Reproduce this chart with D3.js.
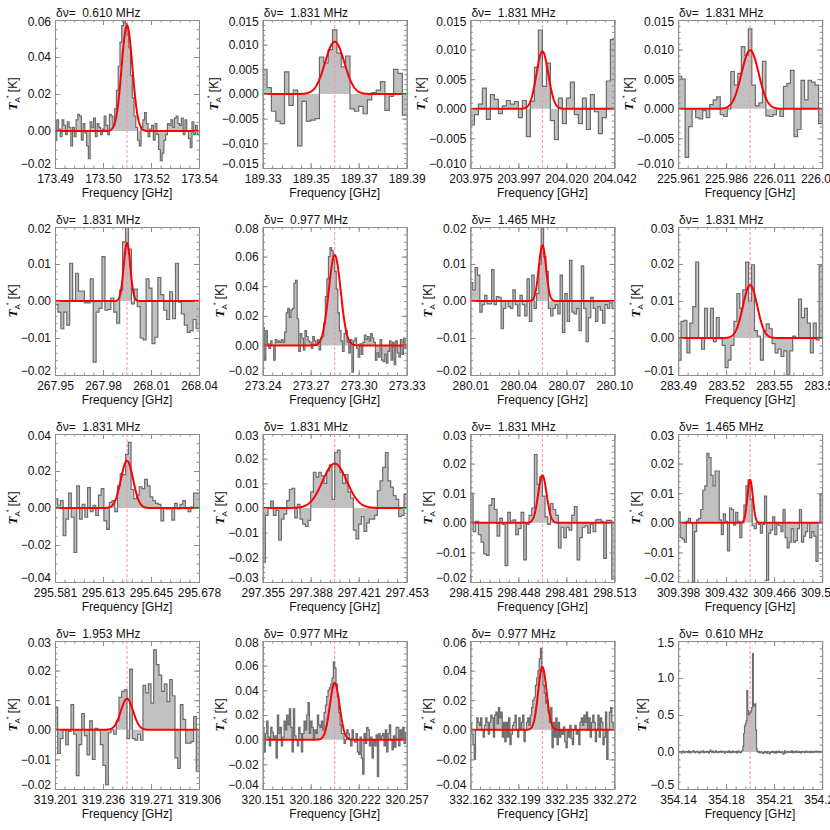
<!DOCTYPE html>
<html>
<head>
<meta charset="utf-8">
<script src="https://cdn.jsdelivr.net/npm/d3@7"></script>
<style>
  body { margin: 0; background: #fff; }
  svg text { font-family: "Liberation Sans", Arial, Helvetica, sans-serif; }
</style>
</head>
<body>
<svg class="plot" width="830" height="830"></svg>
<script>
// channel spacing shown above each panel (MHz)
var dnuLabels = ["0.610", "1.831", "1.831", "1.831", "1.831", "0.977", "1.465", "1.831",
                 "1.831", "1.831", "1.831", "1.465", "1.953", "0.977", "0.977", "0.610"];

// frequency window of each panel (GHz) and its tick labels
var freqLo = [173.49, 189.33, 203.975, 225.961, 267.95, 273.24, 280.01, 283.49,
              295.581, 297.355, 298.415, 309.398, 319.201, 320.151, 332.162, 354.14];
var freqHi = [173.54, 189.39, 204.042, 226.036, 268.04, 273.33, 280.10, 283.58,
              295.678, 297.453, 298.513, 309.500, 319.306, 320.257, 332.272, 354.25];
var xTickLabels = [
  ["173.49", "173.50", "173.52", "173.54"], ["189.33", "189.35", "189.37", "189.39"],
  ["203.975", "203.997", "204.020", "204.042"], ["225.961", "225.986", "226.011", "226.036"],
  ["267.95", "267.98", "268.01", "268.04"], ["273.24", "273.27", "273.30", "273.33"],
  ["280.01", "280.04", "280.07", "280.10"], ["283.49", "283.52", "283.55", "283.58"],
  ["295.581", "295.613", "295.645", "295.678"], ["297.355", "297.388", "297.421", "297.453"],
  ["298.415", "298.448", "298.481", "298.513"], ["309.398", "309.432", "309.466", "309.500"],
  ["319.201", "319.236", "319.271", "319.306"], ["320.151", "320.186", "320.222", "320.257"],
  ["332.162", "332.199", "332.235", "332.272"], ["354.14", "354.18", "354.21", "354.25"]
];

// T_A* tick values (K) and number of decimals in their labels
var yTicks = [
  [-0.02, 0, 0.02, 0.04, 0.06], [-0.015, -0.01, -0.005, 0, 0.005, 0.01, 0.015],
  [-0.01, -0.005, 0, 0.005, 0.01, 0.015], [-0.01, -0.005, 0, 0.005, 0.01, 0.015],
  [-0.02, -0.01, 0, 0.01, 0.02], [-0.02, 0, 0.02, 0.04, 0.06, 0.08],
  [-0.02, -0.01, 0, 0.01, 0.02], [-0.01, 0, 0.01, 0.02, 0.03],
  [-0.04, -0.02, 0, 0.02, 0.04], [-0.03, -0.02, -0.01, 0, 0.01, 0.02, 0.03],
  [-0.02, -0.01, 0, 0.01, 0.02, 0.03], [-0.02, -0.01, 0, 0.01, 0.02, 0.03],
  [-0.02, -0.01, 0, 0.01, 0.02, 0.03], [-0.04, -0.02, 0, 0.02, 0.04, 0.06, 0.08],
  [-0.04, -0.02, 0, 0.02, 0.04, 0.06], [-0.5, 0, 0.5, 1.0, 1.5]
];
var yDecimals = [2, 3, 3, 3, 2, 2, 2, 2, 2, 2, 2, 2, 2, 2, 2, 1];

// gaussian fits: peak (K) and FWHM (MHz); centred on the line frequency
var fitAmp = [0.057, 0.0106, 0.0097, 0.0099, 0.0157, 0.061, 0.015, 0.0143,
              0.0255, 0.018, 0.016, 0.0145, 0.0105, 0.046, 0.0425, null];
var fitFwhm = [4.4, 9.4, 6.5, 10.5, 4.8, 8.8, 5.3, 10.5, 9.7, 19.4, 6.8, 4.5, 10.5, 8.4, 7.6, null];

// observed spectra, channel temperatures in mK
var spec1 = [-5, 6, 1, -3, 6, 3, -2, 5, 2, -8, 2, -3, 6, 9, 8, -5, 4, -1, -8, -15, 5, 2, 7, -3, 4, 2, -2, 1, 8, 3, -2, 9, 8, 3,
  12, 22, 35, 48, 57, 62, 58, 52, 45, 30, 18, 8, 2,
  -5, -8, 2, 6, 10, 4, -3, 1, 3, -5, 4, -2, -10, -16, -12, -5, -2, 4, 3, 6, 2, 7, 8, 4, 3, 7, -2, 6, 0, -4, -9, 5, -2, 3, -2];
var spec2 = [5, 1.3, -3.5, -5.5, -6, 4.5, -2.3, 0.8, -10.5, -1.5, -5.5, -5.3, -5, 7.5, 6.3, 9, 13, 8.3, 5.5, 7.7,
  -3, -3.5, -2.5, -4, -1.2, 0.3, 0.8, 2.5, -3.3, -0.5, 5, 4.2, -4.3];
var spec3 = [-2.7, -1, 0.8, 3.5, -1.8, 2.4, 1.6, -0.8, 0.5, 1.4, 0.8, 1.2, -1.5, 1.4, -4.7, 1.3, 7, 13.3, 3.8, 7.7,
  -2, -5.2, 1.8, -2.5, 1.8, 4.5, -1, -2.5, 1.8, -3.5, 2.4, -0.5, -4.2, -1.5, 4.7, 11.7];
var spec4 = [5.5, 5, -8.2, -3, 0, -1.5, -1.7, -0.3, -1.5, 0.7, 1.5, 2, -1, -1.3, 0, 6.3, 4, 6, 10.5, 9, 13.5, 4, 0.5, 1, 8,
  -1.2, -1.3, -1, 0, -1.3, 3.8, 4.3, 6.5, -4.7, -3.5, 4.8, 1.5, 4.8, 4.5, 4, -2.5];
var spec5 = [-1, -3, -7.5, -3, -6.5, 10.2, 0.2, 7.5, 2.7, 2.7, -0.5, -0.5, 6, -16.5, -3, -2, 12, -2.5, -2.3, 0.8,
  -3, -6, 3, 16, 20, 14, -0.8, 3.2, -1.5, -10, -10.5, 6, 3.5, -11.5, -9.8, 6.3, 1.7, -2.5, -5, 2.5,
  -4.8, 10.2, -0.3, -3.5, -6.5, -8.5, -8, -5, -7.5];
var spec6 = [12, -10, 10, 1, -2, 3, 0, -10, 4, 2, 3, 2, 4, 2, 9, 22, 25, 19, 24, 25,
  42, 44, 18, -4, 8, 5, -3, 10, 6, 3, 2, -2, 6, 3, 0, 4, -3, 5, 6, 15,
  33, 45, 60, 66, 64, 58, 50, 38, 22, 10, 3, -4, 8, 10, 2, -5, 4, -18, 3, 5,
  -2, -8, 1, -6, 2, 7, 4, 6, 3, 8, 5, 2, -10, -5, -8, 4, -10, -11, -6, -12,
  -4, 3, -10, 2, -13, 3, -5, -8, 4, -6, 5, -2];
var spec7 = [5, 3, 9, 7, -3, -1, 1.5, -0.8, -0.8, 8.5, -1, 1.2, 1, -7.5, -2, 0, -1.5, -2, 3, -1,
  -4, 1.5, -1, -4, 6, -5.5, 7, -2, 2, 10, 20.5, 12, 8, -2, -4, -2, -1, -3.5, 7, -8.5,
  2, -5.5, 11, -3, -3.5, -2, -8, 9.5, -2, -11, -4.5, 1, -2, -5.5, -1.5, -2.5, -6, -1, -2, -0.5, -2];
var spec8 = [-6, 4.5, 4.8, -4, 4, 8.5, 20.5, 0, -3, 8, 0, 8, -1, 5.5, -0.2, -2, -8, -6, -2, 4.5,
  12, 8, 13, 20.5, 10, 19.8, 2, 0.5, -6, 2, 3.8, 2.5, -1.5, -4, -3, -5, -3.5, -10, -3.5, 0.5,
  0, 10.5, 5.5, 8, 4, -4, 4, -0.5, 19.5];
var spec9 = [5, 1.5, 4, -15, -6, 8, -5, -24, 12, -6, 2, -5, 11, -2, 1.5, -4, 7, 10.5, -7, -11.5,
  3, 4, -2, 12, 18.5, 18, 29, 35.5, 10, 5, 7, 11.5, 10.5, 15.5, 12, 6, 4, 2.5, 2, -7,
  0, -0.5, 0, -6.5, 2.5, -0.5, 2, 4, 0, -2, 0.5, 8, 8];
var spec10 = [-22, -3, 0, 2.8, -3, -1, -13, -4.5, -2.5, 3, 7.5, 8, -4, 1.5, -4.5, -6.5, -7.5, -5, 6.5, 14.5,
  12.5, 14.5, 13, 10, 15, 17.5, 3.5, 22.5, 23.5, 14.5, 10, 13.5, 6.5, 4, -9, -12.5, -6.5, -3.5, -9.5, -6,
  -4.5, -4.5, -3, 7, 11, 16.5, 22.5, 11, 8.5, 5, 3.5, -3.5, -3, 5.5];
var spec11 = [10, -3, 0.5, -4, -6.5, -10.5, -11, 6, 8.2, 4.5, -4.5, 1.5, -0.5, -14.5, 3.5, 0.6, 1, -4, -2, 3.5,
  -12.5, -0.5, 2.5, 5, 23, 13, 15.5, 9, 2, -0.5, 6.5, 4.5, 2.5, -8.5, -1.5, -5, -1.5, -2.5, 2.5, 5.5,
  -12.5, -5, -1.5, -1, -3.5, -0.5, -3, 1, 1.2, 0.5, -12, 0.8, 0.8, -19];
var spec12 = [3.5, -5, -5.5, -6.5, 0.5, 1.5, 0, -20, -3, 1, 1.5, 4.5, 11, 12.5, 23.5, 22, 16, 12.5, 17.5, 17.5,
  1, -4, 3, 0.5, -9.5, 5, 4.5, -0.8, 3.5, 0.5, -5, 0, 6, 12.5, 14.5, 8, -1, -2, 0, -0.5,
  -3.5, -0.5, 9, -19.5, -3.5, -2.5, 2, -4, -0.5, -1, -3, 4.5, -5, -8.5, -6.5, -2, -6.5, -6, -2, 4.5,
  -6.5, -4.5, -3, 0, -5, -3, -4.5, -13, 0, 9.5];
var spec13 = [7.5, -8, -3, 0, -5, -0.5, 8.5, -1.5, -15.5, -5, 5.5, -2, -8.5, 3, -10, 0.5, 0, -5, -12, -18.5,
  -1, 0, -1.5, 3, 11, 13, 13.5, -3, 20.5, -3, -3.5, -1.5, -3.5, 15, 12.5, 15.5, 9, 27, 22, 18.5,
  13, 15.5, 9.5, 17, 11.5, -9.5, -13, 8.5, 3.5, -4.5, -4.5, -4, 4.5, -14];
var spec14 = [10, -10, 5, 15, 2, -5, 10, 6, 0, 3, -15, 20, 5, 10, -5, 2, 15, 8, 20, 12,
  25, 10, -10, 25, 3, 0, -5, 10, 5, -10, 5, 15, 8, 20, 30, 5, 15, 10, 0, 8,
  5, 20, 12, 10, 15, 8, 22, 28, 35, 40, 42, 45, 50, 63, 58, 45, 35, 22, 12, 5,
  5, -3, 0, 8, 5, 0, -5, 8, 0, -2, 5, -10, -12, 2, -15, -28, 5, -3, 10, 8,
  -5, 2, -15, 0, -5, 4, -30, 5, 0, 3, 5, -5, 8, -10, 5, 12, 0, -8, 3, -6,
  10, 10, -5, 8, 0, 10, -3, 6];
var spec15 = [5, -3, -10, -20, 0, 8, 5, 3, 8, 0, -5, 3, 8, 5, -3, 5, 10, 8, -5, 10,
  12, 4, 15, 8, 12, -5, 5, -8, 5, -5, 8, -10, -3, 3, 5, 10, 0, -5, 8, 0,
  5, 10, -8, 0, 5, 8, 3, 10, 15, 20, 22, 30, 35, 40, 48, 55, 40, 30, 25, 18,
  20, 12, 5, 15, -12, 5, -5, 8, -10, 5, -5, 0, -3, 2, -8, -12, 0, -5, 3, -6,
  -10, 0, 3, -3, 0, -10, 5, 8, 3, 10, 5, 12, 0, 8, -5, 5, 10, 5, -8, 0,
  10, -5, 8, 5, -10, -5, 12, -20, 0, 12, 15, 5, 2];
var spec16 = [10, -6, 4, 0, -16, 8, 12, -4, -10, 6, 0, 4, -8, 14, 2, -12, 6, -2, 10, 20,
  -4, -8, 4, 0, 12, -6, -14, 2, 8, -4, 6, 16, -10, 0, 4, -6, 10, 2, -12, 8,
  24, 4, -6, 12, 0, -8, 6, 16, -4, 2, -10, 6, 0, 12, -6, 4, 10, -2, -16, 4,
  8, -4, 0, 14, -8, 6, 2, -10, 12, 4, -6, 0, 10, -12, 6, 16, -4, 2, -8, 8,
  20, 80, 250, 350, 380, 420, 830, 560, 500, 520, 540, 560, 600, 1330, 640, 620, 650, 300, 40, 5,
  -4, 8, -12, 0, 6, -8, -20, -6, 4, -10, 2, -14, 6, 0, -24, -8, 4, -6, 10, -2,
  -12, 4, -16, 8, 0, -6, 12, -4, -10, 2, 6, -28, -22, 14, -4, -12, 4, 10, -6, 0,
  8, -4, 16, -10, 2, 6, -8, 12, 0, -4, 10, -6, 4, -12, 0, 8, -2, 6, -10, 4,
  12, -4, 0, 6, -8, 10, 2, -6, 8, 0, -4, 6, 12, -2, 4, -8, 10, 0, 6, -4];
var spectra = [spec1, spec2, spec3, spec4, spec5, spec6, spec7, spec8,
               spec9, spec10, spec11, spec12, spec13, spec14, spec15, spec16];

var svg = d3.select(".plot"),
    W = 144, H = 148;      // plot box of one panel

spectra.forEach(function(spec, k) {
  var col = k % 4, row = Math.floor(k / 4);
  var g = svg.append("g")
      .attr("transform", "translate(" + (55 + col * 207.7) + "," + (20 + row * 207) + ")");

  var lo = freqLo[k], hi = freqHi[k], mid = (lo + hi) / 2;
  var yt = yTicks[k];
  var x = d3.scaleLinear().domain([lo, hi]).range([0, W]);
  var y = d3.scaleLinear().domain([yt[0], yt[yt.length - 1]]).range([H, 0]);

  g.append("clipPath").attr("id", "clip" + k)
    .append("rect").attr("width", W).attr("height", H);
  var body = g.append("g").attr("clip-path", "url(#clip" + k + ")");

  // histogram steps: each channel is flat across its width
  var df = (hi - lo) / spec.length, steps = [];
  spec.forEach(function(v, i) {
    steps.push([lo + i * df, v / 1000]);
    steps.push([lo + (i + 1) * df, v / 1000]);
  });
  body.append("path").datum(steps)
      .attr("fill", "#c0c0c0")
      .attr("d", d3.area().x(function(d) { return x(d[0]); }).y0(y(0)).y1(function(d) { return y(d[1]); }));
  body.append("line")
      .attr("x1", x(mid)).attr("x2", x(mid)).attr("y1", 0).attr("y2", H)
      .attr("stroke", "#ff8f8f").attr("stroke-width", 1).attr("stroke-dasharray", "3,2");
  body.append("path").datum(steps)
      .attr("fill", "none").attr("stroke", "#6b6b6b").attr("stroke-width", 1.2)
      .attr("d", d3.line().x(function(d) { return x(d[0]); }).y(function(d) { return y(d[1]); }));

  if (fitAmp[k] !== null) {
    var sig = fitFwhm[k] / 1000 / 2.3548;
    var fit = d3.range(0, 401).map(function(j) {
      var f = lo + j * (hi - lo) / 400;
      return [f, fitAmp[k] * Math.exp(-0.5 * Math.pow((f - mid) / sig, 2))];
    });
    body.append("path").datum(fit)
        .attr("fill", "none").attr("stroke", "#ff0000").attr("stroke-width", 2)
        .attr("d", d3.line().x(function(d) { return x(d[0]); }).y(function(d) { return y(d[1]); }));
  }

  // axes, ticks pointing inward on all four sides
  var xt = [0, 1, 2, 3].map(function(j) { return lo + j * (hi - lo) / 3; });
  var xMinor = d3.range(1, 15).map(function(j) { return lo + j * (hi - lo) / 15; });
  var yStep = yt[1] - yt[0];
  var nMinor = Math.round(yStep * Math.pow(10, yDecimals[k])) === 2 ? 4 : 5;
  var yMinor = d3.range(1, (yt.length - 1) * nMinor).map(function(j) { return yt[0] + j * yStep / nMinor; });
  var fmt = d3.format("." + yDecimals[k] + "f");

  function style(sel) {
    sel.attr("color", "#8c8c8c").attr("font-size", 12)
       .attr("font-family", "Liberation Sans, Arial, sans-serif");
    sel.selectAll("text").attr("fill", "#111");
  }
  g.append("g").attr("transform", "translate(0," + H + ")")
      .call(d3.axisBottom(x).tickValues(xt).tickSize(-5).tickSizeOuter(0).tickPadding(6)
        .tickFormat(function(d, i) { return xTickLabels[k][i]; }))
      .call(style);
  g.append("g").attr("transform", "translate(0," + H + ")")
      .call(d3.axisBottom(x).tickValues(xMinor).tickSize(-2.5).tickSizeOuter(0).tickFormat(""))
      .call(style);
  g.append("g")
      .call(d3.axisTop(x).tickValues(xt).tickSize(-5).tickSizeOuter(0).tickFormat(""))
      .call(style);
  g.append("g")
      .call(d3.axisTop(x).tickValues(xMinor).tickSize(-2.5).tickSizeOuter(0).tickFormat(""))
      .call(style);
  var yAxisG = g.append("g")
      .call(d3.axisLeft(y).tickValues(yt).tickSize(-5).tickSizeOuter(0).tickPadding(4).tickFormat(fmt))
      .call(style);
  // end labels sit just inside the box, as in the original
  yAxisG.selectAll(".tick text")
      .attr("transform", function(d, i) { return i === 0 ? "translate(0,-4)" : (i === yt.length - 1 ? "translate(0,1.5)" : null); });
  g.append("g")
      .call(d3.axisLeft(y).tickValues(yMinor).tickSize(-2.5).tickSizeOuter(0).tickFormat(""))
      .call(style);
  g.append("g").attr("transform", "translate(" + W + ",0)")
      .call(d3.axisRight(y).tickValues(yt).tickSize(-5).tickSizeOuter(0).tickFormat(""))
      .call(style);
  g.append("g").attr("transform", "translate(" + W + ",0)")
      .call(d3.axisRight(y).tickValues(yMinor).tickSize(-2.5).tickSizeOuter(0).tickFormat(""))
      .call(style);

  // labels
  g.append("text")
      .attr("x", 1).attr("y", -3)
      .attr("font-size", 12).attr("fill", "#111")
      .style("white-space", "pre")
      .text("\u03b4\u03bd=  " + dnuLabels[k] + " MHz");

  g.append("text")
      .attr("x", W / 2).attr("y", H + 29)
      .attr("text-anchor", "middle").attr("font-size", 12).attr("fill", "#111")
      .text("Frequency [GHz]");

  var maxW = 0;
  yAxisG.selectAll("text").each(function() { maxW = Math.max(maxW, this.getComputedTextLength()); });
  var yt1 = g.append("text")
      .attr("transform", "translate(" + (-8 - maxW) + "," + (H / 2) + ") rotate(-90)")
      .attr("text-anchor", "middle").attr("font-size", 12).attr("fill", "#111");
  yt1.append("tspan").text("T")
      .attr("font-family", "Liberation Serif, serif").attr("font-style", "italic")
      .attr("font-weight", "bold").attr("font-size", 13);
  yt1.append("tspan").text("A").attr("font-size", 8).attr("dy", 3);
  yt1.append("tspan").text("*").attr("font-size", 7).attr("dy", -9).attr("dx", -1);
  yt1.append("tspan").text(" [K]").attr("dy", 6);
});
</script>
</body>
</html>
